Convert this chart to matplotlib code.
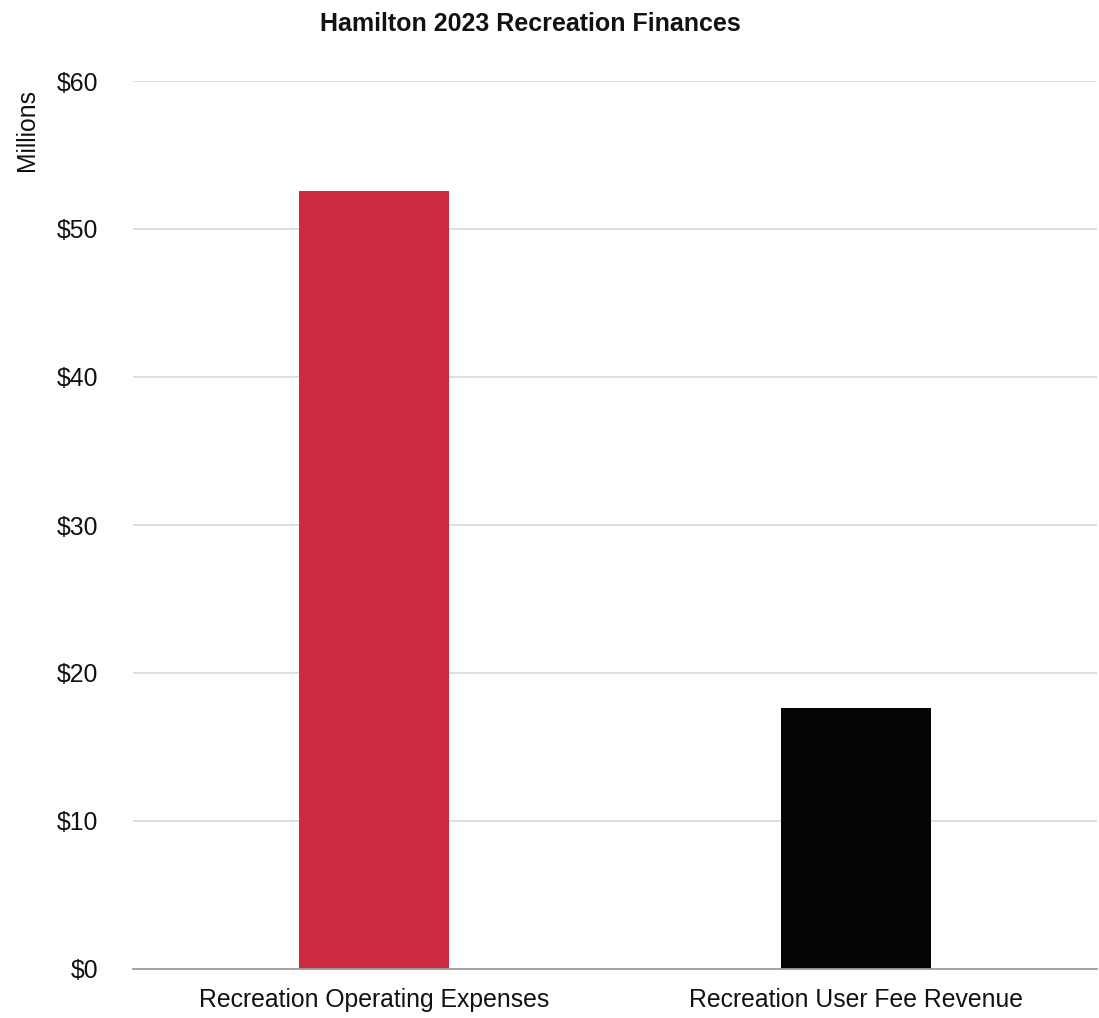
import numpy as np
from matplotlib import pyplot as plt
from matplotlib.ticker import FuncFormatter

plt.rcParams['font.family'] = ['Liberation Sans', 'DejaVu Sans']

categorias = ["Recreation Operating Expenses", "Recreation User Fee Revenue"]
valores = [52.55, 17.65]   # millones de dolares
colores = ["#CC2B42", "#050507"]
ticks_y = [0, 10, 20, 30, 40, 50, 60]

fig = plt.figure(figsize=(10.99, 10.18), dpi=100)
ax = fig.add_axes([133 / 1099, 1 - 969 / 1018, 964 / 1099, 888 / 1018])

x = np.arange(len(categorias))
ax.bar(x, valores, width=0.313, color=colores, zorder=3)

ax.set_xlim(-0.5, len(categorias) - 0.5)
ax.set_ylim(0, 60)
ax.set_yticks(ticks_y)
ax.yaxis.set_major_formatter(FuncFormatter(lambda v, p: "$%d" % v))
ax.set_xticks(x)
ax.set_xticklabels(categorias)

## rejilla y ejes
ax.grid(axis='y', color='#d9d9d9', linewidth=1.2, zorder=0)
for lado in ['top', 'right', 'left']:
    ax.spines[lado].set_visible(False)
ax.spines['bottom'].set_color('#9e9e9e')
ax.spines['bottom'].set_linewidth(1.3)
ax.spines['bottom'].set_zorder(4)
ax.tick_params(axis='both', length=0, labelsize=17.8, colors='#111111')
ax.tick_params(axis='y', pad=25)
ax.tick_params(axis='x', pad=14)

fig.text(0.025, 1 - 130 / 1018, "Millions", rotation=90, ha='center', va='center',
         fontsize=17.8, color='#111111')
fig.text(530 / 1099, 1 - 24 / 1018, "Hamilton 2023 Recreation Finances", ha='center',
         va='center', fontsize=18, fontweight='bold', color='#111111')

fig.savefig("out.png", dpi=100)
